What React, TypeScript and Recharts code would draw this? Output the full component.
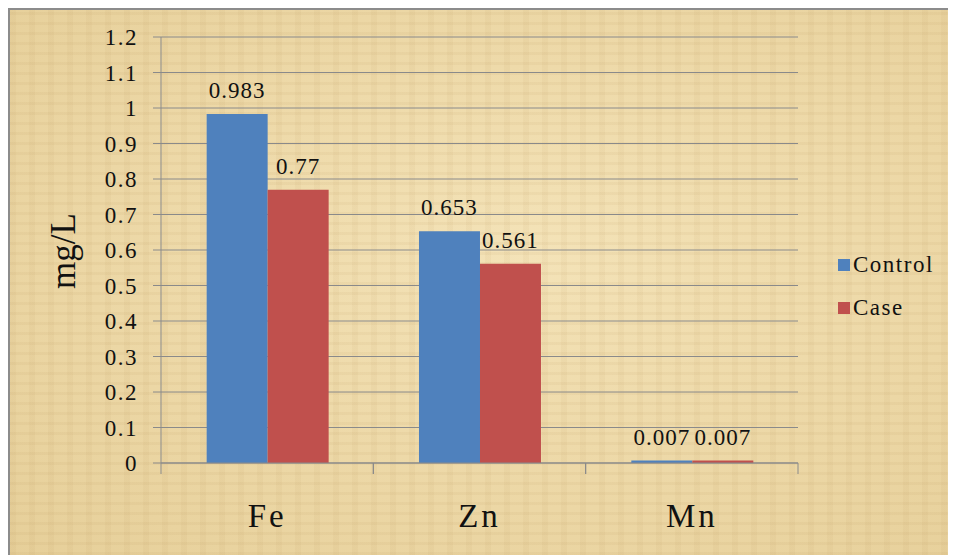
import { Bar, BarChart, CartesianGrid, LabelList, Legend, XAxis, YAxis } from "recharts";

const elements = ["Fe", "Zn", "Mn"];
const control = [0.983, 0.653, 0.007];
const cases = [0.77, 0.561, 0.007];
const yTicks = [0, 0.1, 0.2, 0.3, 0.4, 0.5, 0.6, 0.7, 0.8, 0.9, 1, 1.1, 1.2];
const seriesNames = ["Control", "Case"];

const data = elements.map((name, i) => ({ name, control: control[i], case: cases[i] }));

const FONT = '"Liberation Serif", serif';
const GRID = "#8a8a8a";

const parchment =
  "repeating-linear-gradient(0deg, rgba(170,130,70,0.07) 0px, rgba(170,130,70,0.07) 3px, transparent 3px, transparent 10px)," +
  "repeating-linear-gradient(90deg, rgba(170,130,70,0.06) 0px, rgba(170,130,70,0.06) 6px, transparent 6px, transparent 19px)," +
  "radial-gradient(ellipse at 55% 45%, #f4e3b8 0%, #ecd7a5 60%, #e6cf99 100%)";

// category label plus the little tick marks at the band edges
function CategoryTick(props: any) {
  const { x, y, payload } = props;
  const half = payload.offset ?? 0;
  return (
    <g>
      <line x1={x - half} y1={y} x2={x - half} y2={y + 11} stroke={GRID} />
      <line x1={x + half} y1={y} x2={x + half} y2={y + 11} stroke={GRID} />
      <text x={x} y={y + 64} textAnchor="middle" fontFamily={FONT} fontSize={33} letterSpacing={3} fill="#111">
        {payload.value}
      </text>
    </g>
  );
}

function LegendBox(props: any) {
  const items = [...(props.payload || [])].sort(
    (a: any, b: any) => seriesNames.indexOf(a.value) - seriesNames.indexOf(b.value),
  );
  return (
    <div style={{ fontFamily: FONT, fontSize: 23, letterSpacing: 1.5, color: "#111" }}>
      {items.map((p: any) => (
        <div key={p.value} style={{ display: "flex", alignItems: "center", height: 43 }}>
          <span style={{ width: 12, height: 12, background: p.color, marginRight: 3, display: "inline-block" }} />
          <span>{p.value}</span>
        </div>
      ))}
    </div>
  );
}

export default function App() {
  return (
    <div
      style={{
        width: 946,
        height: 545,
        borderTop: "2px solid #8c8c8c",
        borderLeft: "2px solid #8c8c8c",
        background: parchment,
        fontFamily: FONT,
      }}
    >
      <BarChart
        width={946}
        height={545}
        data={data}
        margin={{ top: 27, right: 158, left: 0, bottom: 0 }}
        barCategoryGap="21.5%"
        barGap={0}
      >
        <CartesianGrid vertical={false} stroke={GRID} />
        <XAxis
          dataKey="name"
          height={92}
          axisLine={{ stroke: GRID }}
          tickLine={false}
          tickSize={0}
          tickMargin={0}
          tick={<CategoryTick />}
          interval={0}
        />
        <YAxis
          width={151}
          domain={[0, 1.2]}
          ticks={yTicks}
          interval={0}
          axisLine={{ stroke: GRID }}
          tickLine={{ stroke: GRID }}
          tickSize={8}
          tickMargin={15}
          tick={{ fontFamily: FONT, fontSize: 23, letterSpacing: 1.5, fill: "#111" }}
          label={{
            content: ({ viewBox }: any) => (
              <text
                x={0}
                y={0}
                transform={`translate(${viewBox.x + 65}, ${viewBox.y + viewBox.height / 2 + 1}) rotate(-90)`}
                textAnchor="middle"
                fontFamily={FONT}
                fontSize={35}
                fill="#111"
              >
                mg/L
              </text>
            ),
          }}
        />
        <Legend
          layout="vertical"
          align="center"
          verticalAlign="middle"
          content={<LegendBox />}
          wrapperStyle={{ left: 828, top: 233, width: 120 }}
        />
        <Bar dataKey="control" name="Control" fill="#4f81bd" isAnimationActive={false}>
          <LabelList dataKey="control" position="top" offset={16} fontFamily={FONT} fontSize={23} letterSpacing={1} fill="#111" />
        </Bar>
        <Bar dataKey="case" name="Case" fill="#c0504d" isAnimationActive={false}>
          <LabelList dataKey="case" position="top" offset={16} fontFamily={FONT} fontSize={23} letterSpacing={1} fill="#111" />
        </Bar>
      </BarChart>
    </div>
  );
}
